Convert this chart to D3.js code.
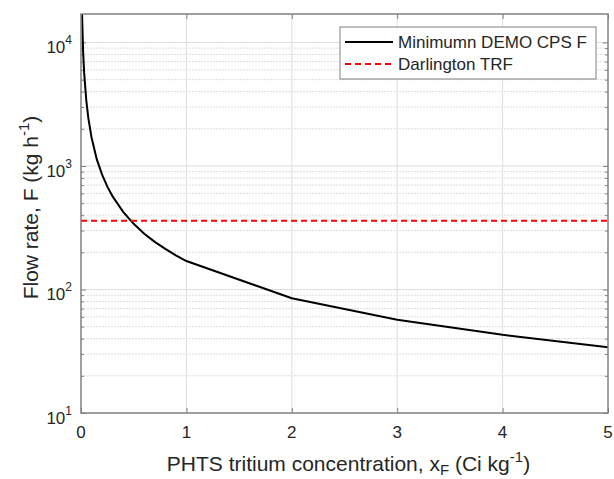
<!DOCTYPE html>
<html>
<head>
<meta charset="utf-8">
<script src="https://cdn.jsdelivr.net/npm/d3@7"></script>
<style>
body{margin:0;background:#fff}
text{font-family:"Liberation Sans",Arial,sans-serif;fill:#262626}
</style>
</head>
<body>
<script>
// values
var concentration=[0.01,0.02,0.03,0.05,0.07,0.1,0.15,0.2,0.25,0.3,0.4,0.5,0.6,0.7,0.8,0.9,1,2,3,4,5]
var flowRate=[17000,8500,5670,3400,2430,1700,1130,850,680,567,425,340,283,243,213,189,170,85,57,43,34]
var darlingtonTRF=360
var xTicks=[0,1,2,3,4,5]
var yTicks=[10,100,1000,10000]
var yTickExp=["1","2","3","4"]
var legendNames=["Minimumn DEMO CPS F","Darlington TRF"]

var screen={width:614,height:479}
var margins={top:14,right:6,bottom:66,left:81}
var width=screen.width-margins.left-margins.right
var height=screen.height-margins.top-margins.bottom

var xScale=d3.scaleLinear().domain([0,5]).range([0,width])
var yScale=d3.scaleLog().domain([10,17000]).range([height,0])

var svg=d3.select("body").append("svg").attr("width",screen.width).attr("height",screen.height)
var g=svg.append("g").attr("transform","translate("+margins.left+","+margins.top+")")

// minor y values inside the range
var minor=[]
yTicks.forEach(function(d){
  for(var k=2;k<=9;k++){ if(d*k<17000) minor.push(d*k) }
})

// grid
g.append("g").selectAll("line").data(minor).enter().append("line")
 .attr("x1",0).attr("x2",width)
 .attr("y1",function(d){return yScale(d)}).attr("y2",function(d){return yScale(d)})
 .style("stroke","#dedede").style("stroke-width",1).style("stroke-dasharray","2,1")
g.append("g").selectAll("line").data(yTicks.slice(1)).enter().append("line")
 .attr("x1",0).attr("x2",width)
 .attr("y1",function(d){return yScale(d)}).attr("y2",function(d){return yScale(d)})
 .style("stroke","#dedede").style("stroke-width",1)
g.append("g").selectAll("line").data(xTicks.slice(1,5)).enter().append("line")
 .attr("x1",function(d){return xScale(d)}).attr("x2",function(d){return xScale(d)})
 .attr("y1",0).attr("y2",height)
 .style("stroke","#dedede").style("stroke-width",1)

// axes (ticks point inward, on all four sides)
var axisColor="#808080"
var xAxis=d3.axisBottom(xScale).tickValues(xTicks).tickSize(-5).tickFormat("")
g.append("g").attr("transform","translate(0,"+height+")").call(xAxis)
g.append("g").call(d3.axisTop(xScale).tickValues(xTicks).tickSize(-5).tickFormat(""))
var yAxisL=d3.axisLeft(yScale).tickValues(yTicks).tickSize(-5).tickFormat("")
g.append("g").call(yAxisL)
g.append("g").call(d3.axisLeft(yScale).tickValues(minor).tickSize(-3).tickFormat(""))
g.append("g").attr("transform","translate("+width+",0)").call(d3.axisRight(yScale).tickValues(yTicks).tickSize(-5).tickFormat(""))
g.append("g").attr("transform","translate("+width+",0)").call(d3.axisRight(yScale).tickValues(minor).tickSize(-3).tickFormat(""))
g.selectAll(".domain").remove()
g.selectAll(".tick line").style("stroke",axisColor)

// x tick labels
g.append("g").selectAll("text").data(xTicks).enter().append("text")
 .attr("x",function(d){return xScale(d)}).attr("y",height+25)
 .attr("text-anchor","middle").style("font-size","17px")
 .text(function(d){return d})

// y tick labels 10^n
var yl=g.append("g").selectAll("text").data(yTicks).enter().append("text")
 .attr("x",-9).attr("y",function(d){return yScale(d)+11})
 .attr("text-anchor","end").style("font-size","17px")
yl.append("tspan").text("10")
yl.append("tspan").attr("dy",-9).style("font-size","12px").text(function(d,i){return yTickExp[i]})

// series
var line=d3.line()
 .x(function(d,i){return xScale(concentration[i])})
 .y(function(d){return yScale(d)})
g.append("path").datum(flowRate).attr("d",line)
 .style("fill","none").style("stroke","#000").style("stroke-width",2)
g.append("line")
 .attr("x1",xScale(0)).attr("x2",xScale(5))
 .attr("y1",yScale(darlingtonTRF)).attr("y2",yScale(darlingtonTRF))
 .style("stroke","#ff0000").style("stroke-width",2).style("stroke-dasharray","6,4")

// box
g.append("rect").attr("x",0).attr("y",0).attr("width",width).attr("height",height)
 .style("fill","none").style("stroke",axisColor).style("stroke-width",1.5)

// legend
var lg=svg.append("g").attr("transform","translate(340,27)")
lg.append("rect").attr("width",256).attr("height",52)
 .style("fill","#fff").style("stroke",axisColor).style("stroke-width",1)
lg.append("line").attr("x1",5).attr("x2",53).attr("y1",15).attr("y2",15)
 .style("stroke","#000").style("stroke-width",2)
lg.append("line").attr("x1",5).attr("x2",53).attr("y1",37).attr("y2",37)
 .style("stroke","#ff0000").style("stroke-width",2).style("stroke-dasharray","6,4")
lg.selectAll("text.leg").data(legendNames).enter().append("text").attr("class","leg")
 .attr("x",58).attr("y",function(d,i){return 21+i*22})
 .style("font-size","17px").text(function(d){return d})

// axis titles
var xt=svg.append("text").attr("x",margins.left+width/2+4).attr("y",471)
 .attr("text-anchor","middle").style("font-size","21px")
xt.append("tspan").text("PHTS tritium concentration, x")
xt.append("tspan").attr("dy",4).style("font-size","15px").text("F")
xt.append("tspan").attr("dy",-4).text(" (Ci kg")
xt.append("tspan").attr("dy",-9).style("font-size","15px").text("-1")
xt.append("tspan").attr("dy",9).text(")")

var yt=svg.append("text").attr("transform","translate(38,"+(margins.top+height/2-6)+") rotate(-90)")
 .attr("text-anchor","middle").style("font-size","21px")
yt.append("tspan").text("Flow rate, F (kg h")
yt.append("tspan").attr("dy",-9).style("font-size","15px").text("-1")
yt.append("tspan").attr("dy",9).text(")")
</script>
</body>
</html>
